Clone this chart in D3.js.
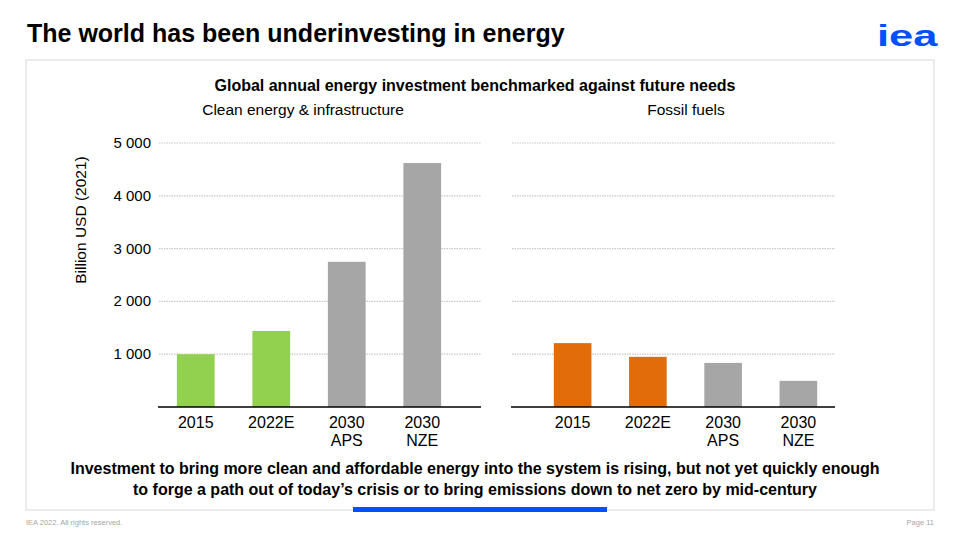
<!DOCTYPE html>
<html>
<head>
<meta charset="utf-8">
<script src="https://cdn.jsdelivr.net/npm/d3@7"></script>
<style>
  body { margin: 0; background: #fff; }
  text { font-family: "Liberation Sans", Arial, sans-serif; }
</style>
</head>
<body>
<script>
// data
var categories = ['2015', '2022E', '2030 APS', '2030 NZE'];
var cleanValues = [1000, 1440, 2750, 4620];
var fossilValues = [1210, 950, 835, 495];
var cleanColors = ['#92d050', '#92d050', '#a6a6a6', '#a6a6a6'];
var fossilColors = ['#e36c0a', '#e36c0a', '#a6a6a6', '#a6a6a6'];
var yTicks = [1000, 2000, 3000, 4000, 5000];

var svg = d3.select('body').append('svg')
    .attr('width', 960)
    .attr('height', 540);

// slide title + logo
svg.append('text')
    .attr('x', 27).attr('y', 42)
    .attr('font-size', 25).attr('font-weight', 'bold')
    .attr('fill', '#000')
    .text('The world has been underinvesting in energy');

svg.append('text')
    .attr('transform', 'translate(877,46) scale(1.45,1)')
    .attr('font-size', 30).attr('font-weight', 'bold')
    .attr('fill', '#0050ff')
    .text('iea');

// frame
svg.append('rect')
    .attr('x', 26).attr('y', 60)
    .attr('width', 908).attr('height', 450)
    .attr('fill', 'none')
    .attr('stroke', '#d9d9d9');

svg.append('rect')
    .attr('x', 353).attr('y', 507)
    .attr('width', 254).attr('height', 5)
    .attr('fill', '#0050ff');

// footer
svg.append('text')
    .attr('x', 26).attr('y', 525)
    .attr('font-size', 7.5).attr('fill', '#a6a6a6')
    .text('IEA 2022. All rights reserved.');
svg.append('text')
    .attr('x', 934).attr('y', 525)
    .attr('text-anchor', 'end')
    .attr('font-size', 7.5).attr('fill', '#a6a6a6')
    .text('Page 11');

// chart titles
svg.append('text')
    .attr('x', 475).attr('y', 91)
    .attr('text-anchor', 'middle')
    .attr('font-size', 16).attr('font-weight', 'bold')
    .text('Global annual energy investment benchmarked against future needs');

svg.append('text')
    .attr('x', 303).attr('y', 115)
    .attr('text-anchor', 'middle')
    .attr('font-size', 15.5)
    .text('Clean energy & infrastructure');

svg.append('text')
    .attr('x', 686).attr('y', 115)
    .attr('text-anchor', 'middle')
    .attr('font-size', 15.5)
    .text('Fossil fuels');

svg.append('text')
    .attr('transform', 'translate(86,220) rotate(-90)')
    .attr('text-anchor', 'middle')
    .attr('font-size', 15.5)
    .text('Billion USD (2021)');

var y = d3.scaleLinear().domain([0, 5000]).range([407, 143]);

function panel(values, colors, x0, x1, gridEnd, lineStart, showAxis) {
    var x = d3.scaleBand().domain(categories).range([x0, x1])
        .paddingInner(0.5).paddingOuter(0.25);
    var g = svg.append('g');

    g.selectAll('.grid').data(yTicks).enter().append('line')
        .attr('x1', lineStart + 1).attr('x2', gridEnd)
        .attr('y1', function(d) { return y(d); })
        .attr('y2', function(d) { return y(d); })
        .attr('stroke', '#c8c8c8')
        .attr('stroke-width', 1.2)
        .attr('stroke-dasharray', '1.5,1');

    if (showAxis) {
        g.selectAll('.tick').data(yTicks).enter().append('text')
            .attr('x', 151)
            .attr('y', function(d) { return y(d) + 5; })
            .attr('text-anchor', 'end')
            .attr('font-size', 15)
            .text(function(d) { return d3.format(',')(d).replace(',', ' '); });
    }

    g.selectAll('rect').data(values).enter().append('rect')
        .attr('x', function(d, i) { return x(categories[i]); })
        .attr('width', x.bandwidth())
        .attr('y', function(d) { return y(d); })
        .attr('height', function(d) { return y(0) - y(d); })
        .attr('fill', function(d, i) { return colors[i]; });

    g.append('line')
        .attr('x1', lineStart).attr('x2', gridEnd)
        .attr('y1', y(0)).attr('y2', y(0))
        .attr('stroke', '#000').attr('stroke-width', 1.3);

    categories.forEach(function(c, i) {
        var parts = c.split(' ');
        var t = g.append('text')
            .attr('x', x(c) + x.bandwidth() / 2)
            .attr('y', 428)
            .attr('text-anchor', 'middle')
            .attr('font-size', 16);
        parts.forEach(function(p, j) {
            t.append('tspan')
                .attr('x', x(c) + x.bandwidth() / 2)
                .attr('dy', j === 0 ? 0 : 18)
                .text(p);
        });
    });
}

panel(cleanValues, cleanColors, 158, 460, 481, 158, true);
panel(fossilValues, fossilColors, 535, 836, 835, 511, false);

// takeaway
svg.append('text')
    .attr('x', 475).attr('y', 474)
    .attr('text-anchor', 'middle')
    .attr('font-size', 16).attr('font-weight', 'bold')
    .text('Investment to bring more clean and affordable energy into the system is rising, but not yet quickly enough');
svg.append('text')
    .attr('x', 475).attr('y', 495)
    .attr('text-anchor', 'middle')
    .attr('font-size', 16).attr('font-weight', 'bold')
    .text('to forge a path out of today\u2019s crisis or to bring emissions down to net zero by mid-century');
</script>
</body>
</html>
